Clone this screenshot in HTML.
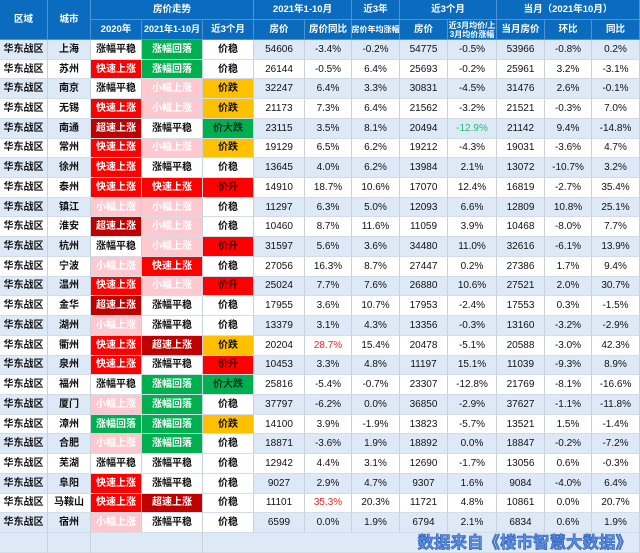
<!DOCTYPE html>
<html><head><meta charset="utf-8"><style>
*{box-sizing:border-box;margin:0;padding:0}
body{width:640px;height:553px;overflow:hidden;background:#fff;font-family:"Liberation Sans","Noto Sans CJK SC",sans-serif;position:relative}
.g{display:grid;grid-template-columns:48px 43px 51px 61px 51px 51px 47px 48px 48px 49px 48px 47px 48px;grid-template-rows:20px 20px repeat(25,19.72px) 20px;width:640px;height:553px}
.g>div,.r>div{display:flex;align-items:center;justify-content:center;font-size:10px;color:#111;border-right:1px solid #c8d2dc;border-bottom:1px solid #d4dde6;white-space:nowrap;line-height:11px;text-align:center;overflow:hidden}
.g>div.r{display:contents}
.r>div:nth-child(1),.r>div:nth-child(2),.r>div:nth-child(3),.r>div:nth-child(4),.r>div:nth-child(5){font-weight:bold}
.r>div{background-color:#fff}
.b>div{background-color:#dde9f6}
.hd{background:#0b6cbf!important;color:#fff!important;font-weight:bold;font-size:9.5px!important;border-right:1px solid #4d93d3!important;border-bottom:1px solid #4d93d3!important}
.r>.k{background:#ff0000;color:#fff}
.r>.s{background:#c00000;color:#fff}
.r>.x{background:#ffc7ce;color:#fff}
.r>.h{background:#00b050;color:#fff}
.r>.p{background:#fff}
.r>.w{background:#fff}
.r>.d{background:#ffc000}
.r>.u{background:#ff0000;color:#400}
.r>.gg{background:#00b050;color:#032}
.rd{color:#ff2020!important}
.gr{color:#1fbf70!important}
.ft>div{background-color:#dde9f6}
.src{position:absolute;right:8px;top:533px;height:20px;font-size:16.5px;font-weight:bold;color:#5b8ee0;font-family:"Liberation Sans","Noto Sans CJK SC",sans-serif;-webkit-text-stroke:0.6px #2a5cb8;line-height:20px}
</style></head><body>
<div class="g">
<div class="hd" style="grid-row:1/3;grid-column:1">区域</div>
<div class="hd" style="grid-row:1/3;grid-column:2">城市</div>
<div class="hd" style="grid-row:1;grid-column:3/6">房价走势</div>
<div class="hd" style="grid-row:1;grid-column:6/8">2021年1-10月</div>
<div class="hd" style="grid-row:1;grid-column:8">近3年</div>
<div class="hd" style="grid-row:1;grid-column:9/11">近3个月</div>
<div class="hd" style="grid-row:1;grid-column:11/14">当月（2021年10月）</div>
<div class="hd" style="grid-row:2;grid-column:3">2020年</div>
<div class="hd" style="grid-row:2;grid-column:4;font-size:9px!important">2021年1-10月</div>
<div class="hd" style="grid-row:2;grid-column:5">近3个月</div>
<div class="hd" style="grid-row:2;grid-column:6">房价</div>
<div class="hd" style="grid-row:2;grid-column:7">房价同比</div>
<div class="hd" style="grid-row:2;grid-column:8;font-size:8px!important">房价年均涨幅</div>
<div class="hd" style="grid-row:2;grid-column:9">房价</div>
<div class="hd" style="grid-row:2;grid-column:10;font-size:8px!important;flex-direction:column;line-height:9px">近3月均价/上<br>3月均价涨幅</div>
<div class="hd" style="grid-row:2;grid-column:11">当月房价</div>
<div class="hd" style="grid-row:2;grid-column:12">环比</div>
<div class="hd" style="grid-row:2;grid-column:13">同比</div>

<div class="r b"><div>华东战区</div><div>上海</div><div class="p">涨幅平稳</div><div class="h">涨幅回落</div><div class="w">价稳</div><div>54606</div><div>-3.4%</div><div>-0.2%</div><div>54775</div><div>-0.5%</div><div>53966</div><div>-0.8%</div><div>0.2%</div></div>
<div class="r"><div>华东战区</div><div>苏州</div><div class="k">快速上涨</div><div class="h">涨幅回落</div><div class="w">价稳</div><div>26144</div><div>-0.5%</div><div>6.4%</div><div>25693</div><div>-0.2%</div><div>25961</div><div>3.2%</div><div>-3.1%</div></div>
<div class="r b"><div>华东战区</div><div>南京</div><div class="p">涨幅平稳</div><div class="x">小幅上涨</div><div class="d">价跌</div><div>32247</div><div>6.4%</div><div>3.3%</div><div>30831</div><div>-4.5%</div><div>31476</div><div>2.6%</div><div>-0.1%</div></div>
<div class="r"><div>华东战区</div><div>无锡</div><div class="k">快速上涨</div><div class="x">小幅上涨</div><div class="d">价跌</div><div>21173</div><div>7.3%</div><div>6.4%</div><div>21562</div><div>-3.2%</div><div>21521</div><div>-0.3%</div><div>7.0%</div></div>
<div class="r b"><div>华东战区</div><div>南通</div><div class="s">超速上涨</div><div class="p">涨幅平稳</div><div class="gg">价大跌</div><div>23115</div><div>3.5%</div><div>8.1%</div><div>20494</div><div class="gr">-12.9%</div><div>21142</div><div>9.4%</div><div>-14.8%</div></div>
<div class="r"><div>华东战区</div><div>常州</div><div class="k">快速上涨</div><div class="x">小幅上涨</div><div class="d">价跌</div><div>19129</div><div>6.5%</div><div>6.2%</div><div>19212</div><div>-4.3%</div><div>19031</div><div>-3.6%</div><div>4.7%</div></div>
<div class="r b"><div>华东战区</div><div>徐州</div><div class="k">快速上涨</div><div class="p">涨幅平稳</div><div class="w">价稳</div><div>13645</div><div>4.0%</div><div>6.2%</div><div>13984</div><div>2.1%</div><div>13072</div><div>-10.7%</div><div>3.2%</div></div>
<div class="r"><div>华东战区</div><div>泰州</div><div class="k">快速上涨</div><div class="k">快速上涨</div><div class="u">价升</div><div>14910</div><div>18.7%</div><div>10.6%</div><div>17070</div><div>12.4%</div><div>16819</div><div>-2.7%</div><div>35.4%</div></div>
<div class="r b"><div>华东战区</div><div>镇江</div><div class="x">小幅上涨</div><div class="x">小幅上涨</div><div class="w">价稳</div><div>11297</div><div>6.3%</div><div>5.0%</div><div>12093</div><div>6.6%</div><div>12809</div><div>10.8%</div><div>25.1%</div></div>
<div class="r"><div>华东战区</div><div>淮安</div><div class="s">超速上涨</div><div class="x">小幅上涨</div><div class="w">价稳</div><div>10460</div><div>8.7%</div><div>11.6%</div><div>11059</div><div>3.9%</div><div>10468</div><div>-8.0%</div><div>7.7%</div></div>
<div class="r b"><div>华东战区</div><div>杭州</div><div class="p">涨幅平稳</div><div class="x">小幅上涨</div><div class="u">价升</div><div>31597</div><div>5.6%</div><div>3.6%</div><div>34480</div><div>11.0%</div><div>32616</div><div>-6.1%</div><div>13.9%</div></div>
<div class="r"><div>华东战区</div><div>宁波</div><div class="x">小幅上涨</div><div class="k">快速上涨</div><div class="w">价稳</div><div>27056</div><div>16.3%</div><div>8.7%</div><div>27447</div><div>0.2%</div><div>27386</div><div>1.7%</div><div>9.4%</div></div>
<div class="r b"><div>华东战区</div><div>温州</div><div class="k">快速上涨</div><div class="x">小幅上涨</div><div class="u">价升</div><div>25024</div><div>7.7%</div><div>7.6%</div><div>26880</div><div>10.6%</div><div>27521</div><div>2.0%</div><div>30.7%</div></div>
<div class="r"><div>华东战区</div><div>金华</div><div class="s">超速上涨</div><div class="p">涨幅平稳</div><div class="w">价稳</div><div>17955</div><div>3.6%</div><div>10.7%</div><div>17953</div><div>-2.4%</div><div>17553</div><div>0.3%</div><div>-1.5%</div></div>
<div class="r b"><div>华东战区</div><div>湖州</div><div class="x">小幅上涨</div><div class="p">涨幅平稳</div><div class="w">价稳</div><div>13379</div><div>3.1%</div><div>4.3%</div><div>13356</div><div>-0.3%</div><div>13160</div><div>-3.2%</div><div>-2.9%</div></div>
<div class="r"><div>华东战区</div><div>衢州</div><div class="k">快速上涨</div><div class="s">超速上涨</div><div class="d">价跌</div><div>20204</div><div class="rd">28.7%</div><div>15.4%</div><div>20478</div><div>-5.1%</div><div>20588</div><div>-3.0%</div><div>42.3%</div></div>
<div class="r b"><div>华东战区</div><div>泉州</div><div class="k">快速上涨</div><div class="p">涨幅平稳</div><div class="u">价升</div><div>10453</div><div>3.3%</div><div>4.8%</div><div>11197</div><div>15.1%</div><div>11039</div><div>-9.3%</div><div>8.9%</div></div>
<div class="r"><div>华东战区</div><div>福州</div><div class="p">涨幅平稳</div><div class="h">涨幅回落</div><div class="gg">价大跌</div><div>25816</div><div>-5.4%</div><div>-0.7%</div><div>23307</div><div>-12.8%</div><div>21769</div><div>-8.1%</div><div>-16.6%</div></div>
<div class="r b"><div>华东战区</div><div>厦门</div><div class="x">小幅上涨</div><div class="h">涨幅回落</div><div class="w">价稳</div><div>37797</div><div>-6.2%</div><div>0.0%</div><div>36850</div><div>-2.9%</div><div>37627</div><div>-1.1%</div><div>-11.8%</div></div>
<div class="r"><div>华东战区</div><div>漳州</div><div class="h">涨幅回落</div><div class="h">涨幅回落</div><div class="d">价跌</div><div>14100</div><div>3.9%</div><div>-1.9%</div><div>13823</div><div>-5.7%</div><div>13521</div><div>1.5%</div><div>-1.4%</div></div>
<div class="r b"><div>华东战区</div><div>合肥</div><div class="x">小幅上涨</div><div class="h">涨幅回落</div><div class="w">价稳</div><div>18871</div><div>-3.6%</div><div>1.9%</div><div>18892</div><div>0.0%</div><div>18847</div><div>-0.2%</div><div>-7.2%</div></div>
<div class="r"><div>华东战区</div><div>芜湖</div><div class="p">涨幅平稳</div><div class="p">涨幅平稳</div><div class="w">价稳</div><div>12942</div><div>4.4%</div><div>3.1%</div><div>12690</div><div>-1.7%</div><div>13056</div><div>0.6%</div><div>-0.3%</div></div>
<div class="r b"><div>华东战区</div><div>阜阳</div><div class="k">快速上涨</div><div class="p">涨幅平稳</div><div class="w">价稳</div><div>9027</div><div>2.9%</div><div>4.7%</div><div>9307</div><div>1.6%</div><div>9084</div><div>-4.0%</div><div>6.4%</div></div>
<div class="r"><div>华东战区</div><div>马鞍山</div><div class="k">快速上涨</div><div class="s">超速上涨</div><div class="w">价稳</div><div>11101</div><div class="rd">35.3%</div><div>20.3%</div><div>11721</div><div>4.8%</div><div>10861</div><div>0.0%</div><div>20.7%</div></div>
<div class="r b"><div>华东战区</div><div>宿州</div><div class="x">小幅上涨</div><div class="p">涨幅平稳</div><div class="w">价稳</div><div>6599</div><div>0.0%</div><div>1.9%</div><div>6794</div><div>2.1%</div><div>6834</div><div>0.6%</div><div>1.9%</div></div>
<div class="r ft"><div></div><div></div><div style="grid-column:3/5"></div><div style="grid-column:5/14"></div></div>
</div>
<div class="src">数据来自《楼市智慧大数据》</div>
</body></html>
